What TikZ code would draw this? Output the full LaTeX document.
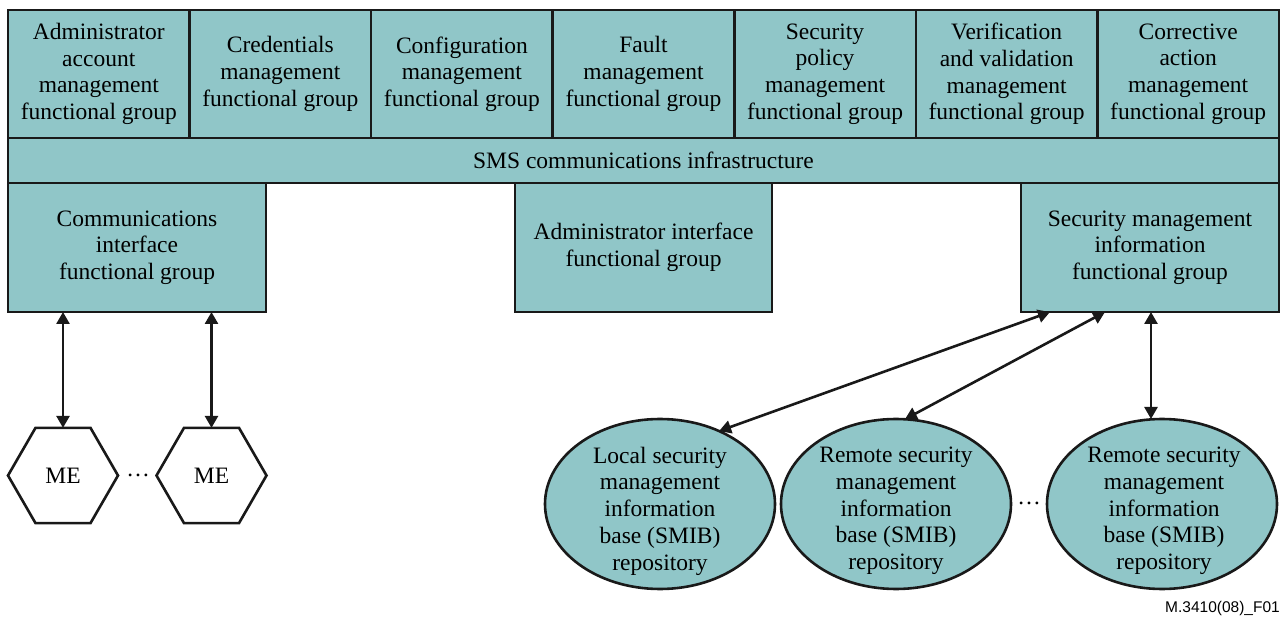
\documentclass[tikz,border=0pt]{standalone}
\usepackage{fontspec}
\setmainfont{Liberation Serif}
\newfontfamily\figfont{Liberation Sans}
\usetikzlibrary{shapes.geometric,arrows.meta}
\definecolor{boxfill}{RGB}{144,198,200}
\begin{document}
\begin{tikzpicture}[x=1pt,y=-1pt,
  txt/.style={align=center,inner sep=0pt,font=\fontsize{23.5}{26.7}\selectfont},
  fgbox/.style={txt,draw=black!90,line width=2.6pt,fill=boxfill,outer sep=0pt},
  meshape/.style={txt,draw=black!90,line width=2.6pt,fill=white,regular polygon,
    regular polygon sides=6,minimum size=110pt,outer sep=0pt},
  smib/.style={draw=black!90,line width=2.6pt,fill=boxfill,ellipse,inner sep=0pt,
    outer sep=0pt,minimum width=230pt,minimum height=170pt},
  link/.style={draw=black!90,line width=2.6pt,
    {Triangle[length=12pt,width=13pt]}-{Triangle[length=12pt,width=13pt]}}]
\useasboundingbox (0,0) rectangle (1283,617);

% functional groups along the top
\def\bw{181.57}
\foreach \n/\t [count=\i from 0] in {
  acc/{Administrator\\account\\management\\functional group},
  cred/{Credentials\\management\\functional group},
  conf/{Configuration\\management\\functional group},
  fault/{Fault\\management\\functional group},
  pol/{Security\\policy\\management\\functional group},
  vv/{Verification\\and validation\\management\\functional group},
  corr/{Corrective\\action\\management\\functional group}}
  \node[fgbox,minimum width=\bw pt,minimum height=128pt]
    (\n) at ({8+\bw*(\i+0.5)},74) {\t};

% communications bar
\node[fgbox,minimum width=1271pt,minimum height=45pt] (sms) at (643.5,160.5)
  {SMS communications infrastructure};

% lower functional groups
\node[fgbox,minimum width=258pt,minimum height=129pt] (comm) at (137,247.5)
  {Communications\\interface\\functional group};
\node[fgbox,minimum width=257pt,minimum height=129pt] (adm) at (643.5,247.5)
  {Administrator interface\\functional group};
\node[fgbox,minimum width=258pt,minimum height=129pt] (smi) at (1150,247.5)
  {Security management\\information\\functional group};

% managed elements
\node[meshape] (me1) at (63,475.5) {ME};
\node[meshape] (me2) at (211.5,475.5) {ME};
\node[txt] (medots) at (138,475) {…};

\draw[link] (comm.south -| me1.north) -- (me1.north);
\draw[link] (comm.south -| me2.north) -- (me2.north);

% SMIB repositories
\node[smib] (loc) at (660,504) {};
\node[smib] (rem1) at (896,504) {};
\node[smib] (rem2) at (1162,504) {};
\node[txt] (loct) at (660,511) {Local security\\management\\information\\base (SMIB)\\repository};
\node[txt] (rem1t) at (896,511) {Remote security\\management\\information\\base (SMIB)\\repository};
\node[txt] (rem2t) at (1164,511) {Remote security\\management\\information\\base (SMIB)\\repository};
\node[txt] (smibdots) at (1029,503) {…};

\coordinate (s1) at ([xshift=29pt]smi.south west);
\coordinate (s2) at ([xshift=84pt]smi.south west);
\coordinate (s3) at ([xshift=130pt]smi.south west);
\draw[link] (s1) -- (loc.51);
\draw[link] (s2) -- (rem1.84);
\draw[link] (s3) -- (rem2.north -| s3);

% figure number
\node[inner sep=0pt,anchor=east,font=\figfont\fontsize{15.5}{18}\selectfont] (fig) at (1280,608) {M.3410(08)\_F01};
\end{tikzpicture}
\end{document}
